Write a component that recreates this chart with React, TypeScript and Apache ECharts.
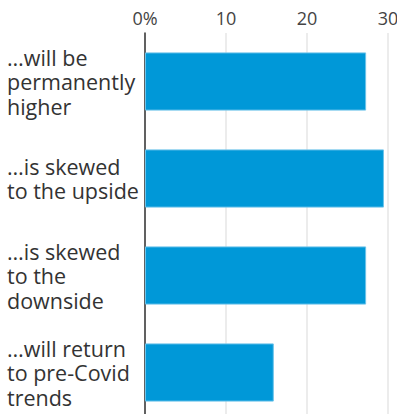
import React, { useEffect, useRef } from "react";
import * as echarts from "echarts";

const categories = [
  "…will be\npermanently\nhigher",
  "…is skewed\nto the upside",
  "…is skewed\nto the\ndownside",
  "…will return\nto pre-Covid\ntrends",
];
const values = [27.3, 29.5, 27.3, 15.9];
const tickMin = 0;
const tickMax = 30;
const tickStep = 10;

export default function App() {
  const ref = useRef<HTMLDivElement>(null);
  useEffect(() => {
    if (!ref.current) return;
    const chart = echarts.init(ref.current, null, { renderer: "svg" });
    chart.setOption({
      animation: false,
      grid: {
        left: 145,
        top: 33,
        width: 243,
        height: 388,
        containLabel: false,
        outerBoundsMode: "none",
      },
      xAxis: {
        type: "value",
        position: "top",
        min: tickMin,
        max: tickMax,
        interval: tickStep,
        axisLine: { show: false },
        axisTick: { show: false },
        splitLine: { show: true, lineStyle: { color: "#e6e6e6", width: 1.5 } },
        axisLabel: {
          margin: 6,
          color: "#444",
          fontSize: 18,
          fontFamily: "Open Sans",
          formatter: (v: number) => (v === 0 ? "0%" : String(v)),
        },
      },
      yAxis: {
        type: "category",
        inverse: true,
        data: categories,
        axisLine: { show: true, lineStyle: { color: "#333", width: 1.5 } },
        axisTick: { show: false },
        axisLabel: {
          align: "left",
          margin: 138,
          color: "#333",
          fontSize: 21.5,
          lineHeight: 24.5,
          fontFamily: "Open Sans",
        },
      },
      series: [
        {
          type: "bar",
          data: values,
          barWidth: "60%",
          itemStyle: { color: "#0098d8", borderColor: "#6cc3ea", borderWidth: 1 },
        },
      ],
    });
    return () => chart.dispose();
  }, []);
  return (
    <div
      ref={ref}
      style={{ position: "absolute", left: 0, top: 0, width: 397, height: 414, background: "#fff" }}
    />
  );
}
